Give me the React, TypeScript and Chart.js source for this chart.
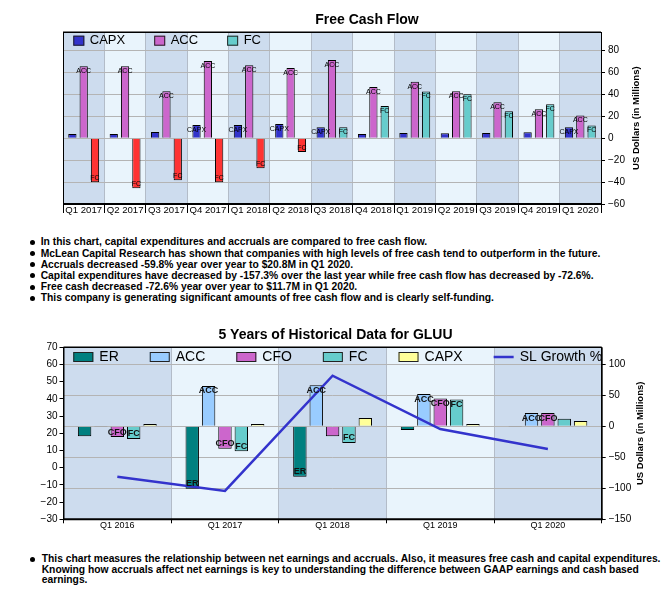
import React, { useEffect, useRef } from "react";
import { Chart, registerables } from "chart.js";

Chart.register(...registerables);

// ---------- Data: Free Cash Flow (quarterly) ----------
const quarters = ["Q1 2017", "Q2 2017", "Q3 2017", "Q4 2017", "Q1 2018", "Q2 2018", "Q3 2018", "Q4 2018", "Q1 2019", "Q2 2019", "Q3 2019", "Q4 2019", "Q1 2020"];
const capxQ = [4.0, 4.0, 5.8, 12.2, 12.2, 13.1, 10.0, 4.0, 4.9, 4.6, 4.9, 5.5, 10.0];
const accQ = [65.8, 65.8, 42.9, 70.6, 66.7, 64.2, 71.5, 46.9, 51.7, 42.9, 32.9, 26.5, 20.8];
const fcQ = [-40.2, -45.7, -38.4, -40.2, -27.4, -12.5, 10.0, 29.5, 42.7, 40.2, 24.7, 31.1, 11.7];
const fcTicks = [-60, -40, -20, 0, 20, 40, 60, 80];

// ---------- Data: 5 Years of Historical Data ----------
const years = ["Q1 2016", "Q1 2017", "Q1 2018", "Q1 2019", "Q1 2020"];
const erY = [-16.0, -100.6, -81.3, -5.9, -0.4];
const accY = [-1.0, 65.0, 66.0, 51.9, 21.4];
const cfoY = [-17.3, -36.4, -16.0, 44.9, 21.4];
const fcY = [-20.3, -40.1, -26.8, 43.3, 12.3];
const capxY = [3.7, 3.7, 13.4, 3.7, 8.6];
const slGrowth = [-5.2, -13.5, 53.5, 22.5, 10.9];
const leftTicks = [-30, -20, -10, 0, 10, 20, 30, 40, 50, 60, 70];
const rightTicks = [-150, -100, -50, 0, 50, 100];

const bulletsTop = [
  "In this chart, capital expenditures and accruals are compared to free cash flow.",
  "McLean Capital Research has shown that companies with high levels of free cash tend to outperform in the future.",
  "Accruals decreased -59.8% year over year to $20.8M in Q1 2020.",
  "Capital expenditures have decreased by -157.3% over the last year while free cash flow has decreased by -72.6%.",
  "Free cash decreased -72.6% year over year to $11.7M in Q1 2020.",
  "This company is generating significant amounts of free cash flow and is clearly self-funding.",
];
const bulletBottom = [
  "This chart measures the relationship between net earnings and accruals. Also, it measures free cash and capital expenditures.",
  "Knowing how accruals affect net earnings is key to understanding the difference between GAAP earnings and cash based",
  "earnings.",
];

const FONT = '"Liberation Sans", Arial, Helvetica, sans-serif';
const minusFmt = (v: any) => (Number(v) < 0 ? "\u2212" + Math.abs(Number(v)) : String(v));

// ---------- Plugins ----------
const bandsPlugin = {
  id: "bands",
  beforeDraw(chart: any, _a: any, o: any) {
    const { ctx, chartArea: a, scales } = chart;
    const x = scales.x;
    const n = chart.data.labels.length;
    const w = (a.right - a.left) / n;
    ctx.save();
    for (let i = 0; i < n; i++) {
      const cx = x.getPixelForValue(i);
      ctx.fillStyle = i % 2 === 0 ? o.dark : o.light;
      ctx.fillRect(cx - w / 2, a.top, w, a.bottom - a.top);
    }
    ctx.restore();
  },
};

const framePlugin = {
  id: "frame",
  afterDraw(chart: any) {
    const { ctx, chartArea: a } = chart;
    ctx.save();
    ctx.strokeStyle = "#000";
    ctx.lineWidth = 1.5;
    ctx.beginPath();
    ctx.moveTo(a.left, a.top);
    ctx.lineTo(a.right, a.top);
    ctx.stroke();
    ctx.lineWidth = 2;
    ctx.beginPath();
    ctx.moveTo(a.left, a.bottom);
    ctx.lineTo(a.right + 1, a.bottom);
    ctx.stroke();
    ctx.lineWidth = 1;
    ctx.beginPath();
    ctx.moveTo(a.left + 0.5, a.top);
    ctx.lineTo(a.left + 0.5, a.bottom);
    ctx.moveTo(a.right + 0.5, a.top);
    ctx.lineTo(a.right + 0.5, a.bottom);
    ctx.stroke();
    ctx.restore();
  },
};

const insideLegendPlugin = {
  id: "insideLegend",
  afterDraw(chart: any, _a: any, o: any) {
    const { ctx } = chart;
    ctx.save();
    ctx.font = o.font;
    ctx.textBaseline = "middle";
    ctx.textAlign = "left";
    let x = o.x;
    const y = o.y;
    chart.data.datasets.forEach((ds: any) => {
      if (ds.type === "line") {
        ctx.strokeStyle = ds.borderColor;
        ctx.lineWidth = ds.borderWidth;
        ctx.beginPath();
        ctx.moveTo(x, y);
        ctx.lineTo(x + o.boxW, y);
        ctx.stroke();
      } else {
        ctx.fillStyle = ds.legendColor || ds.backgroundColor;
        ctx.fillRect(x, y - o.boxH / 2, o.boxW, o.boxH);
        ctx.strokeStyle = "#222";
        ctx.lineWidth = 1;
        ctx.strokeRect(x + 0.5, y - o.boxH / 2 + 0.5, o.boxW - 1, o.boxH - 1);
      }
      x += o.boxW + o.textGap;
      ctx.fillStyle = "#000";
      ctx.fillText(ds.label, x, y);
      x += ctx.measureText(ds.label).width + o.itemGap;
    });
    ctx.restore();
  },
};

const barLabelsPlugin = {
  id: "barLabels",
  afterDatasetsDraw(chart: any, _a: any, o: any) {
    const { ctx } = chart;
    ctx.save();
    ctx.font = o.font;
    ctx.fillStyle = o.color;
    ctx.textAlign = "center";
    ctx.textBaseline = "middle";
    chart.data.datasets.forEach((ds: any, di: number) => {
      const meta = chart.getDatasetMeta(di);
      if (meta.type !== "bar") return;
      const min = o.minAbs[ds.label];
      if (min === undefined) return;
      meta.data.forEach((el: any, i: number) => {
        const v = ds.data[i];
        if (Math.abs(v) < min) return;
        const y = v >= 0 ? el.y + o.inPos : el.y - o.inNeg;
        ctx.fillText(ds.label, el.x, y);
      });
    });
    ctx.restore();
  },
};

const sideTitlePlugin = {
  id: "sideTitle",
  afterDraw(chart: any, _a: any, o: any) {
    const { ctx, chartArea: a } = chart;
    ctx.save();
    ctx.translate(o.x, (a.top + a.bottom) / 2);
    ctx.rotate(-Math.PI / 2);
    ctx.font = o.font;
    ctx.fillStyle = "#000";
    ctx.textAlign = "center";
    ctx.textBaseline = "middle";
    ctx.fillText(o.text, 0, 0);
    ctx.restore();
  },
};

const fixedTicks = (vals: number[]) => (scale: any) => {
  scale.ticks = vals.map((v) => ({ value: v }));
};

export default function App() {
  const c1 = useRef<HTMLCanvasElement>(null);
  const c2 = useRef<HTMLCanvasElement>(null);

  useEffect(() => {
    const barCommon = { borderColor: "#000", borderWidth: 1, categoryPercentage: 0.82, barPercentage: 0.73 };
    const chart1 = new Chart(c1.current as HTMLCanvasElement, {
      type: "bar",
      data: {
        labels: quarters,
        datasets: [
          { label: "CAPX", data: capxQ, backgroundColor: "#3333cc", ...barCommon } as any,
          { label: "ACC", data: accQ, backgroundColor: "#cc66cc", ...barCommon } as any,
          {
            label: "FC",
            data: fcQ,
            legendColor: "#66cccc",
            backgroundColor: (c: any) => (c.raw < 0 ? "#ff3333" : "#66cccc"),
            ...barCommon,
          } as any,
        ],
      },
      options: {
        animation: false,
        responsive: false,
        layout: { padding: { left: 63, right: 0, top: 0, bottom: 0 } },
        plugins: {
          legend: { display: false },
          tooltip: { enabled: false },
          title: {
            display: true,
            text: "Free Cash Flow",
            color: "#000",
            font: { size: 14, weight: "bold", family: FONT },
            padding: { top: 12, bottom: 3.5 },
          },
          bands: { dark: "#cddcee", light: "#e9f4fc" },
          insideLegend: { x: 73.3, y: 40.7, boxW: 11, boxH: 10, textGap: 5.5, itemGap: 29, font: `13px ${FONT}` },
          barLabels: { font: `7px ${FONT}`, color: "#000", inPos: 5, inNeg: 4, minAbs: { CAPX: 8, ACC: 0, FC: 0 } },
          sideTitle: { x: 636, text: "US Dollars (in Millions)", font: `bold 9.5px ${FONT}` },
        } as any,
        scales: {
          x: {
            grid: { offset: true, color: "#b3bcc8", tickColor: "#000", tickLength: 9, lineWidth: 1 },
            border: { display: false },
            ticks: { color: "#000", font: { size: 9.6, family: FONT }, padding: -8, maxRotation: 0, autoSkip: false },
            afterFit: (s: any) => {
              s.height = 21;
            },
          },
          y: {
            position: "right",
            min: -60,
            max: 96.8,
            afterBuildTicks: fixedTicks(fcTicks),
            ticks: { color: "#000", font: { size: 10, family: FONT }, padding: 3, callback: minusFmt },
            grid: { color: "#b4b4b4", tickColor: "#000", tickLength: 4 },
            border: { display: true, color: "#000", width: 1 },
            afterFit: (s: any) => {
              s.width = 70;
            },
          },
        } as any,
      },
      plugins: [bandsPlugin, framePlugin, insideLegendPlugin, barLabelsPlugin, sideTitlePlugin] as any,
    });

    const barCommon2 = { borderColor: "#000", borderWidth: 1, categoryPercentage: 0.76, barPercentage: 0.82, yAxisID: "y1", order: 1 };
    const chart2 = new Chart(c2.current as HTMLCanvasElement, {
      type: "bar",
      data: {
        labels: years,
        datasets: [
          { label: "ER", data: erY, backgroundColor: "#008080", ...barCommon2 } as any,
          { label: "ACC", data: accY, backgroundColor: "#99ccff", ...barCommon2 } as any,
          { label: "CFO", data: cfoY, backgroundColor: "#cc66cc", ...barCommon2 } as any,
          { label: "FC", data: fcY, backgroundColor: "#66cccc", ...barCommon2 } as any,
          { label: "CAPX", data: capxY, backgroundColor: "#ffff99", ...barCommon2 } as any,
          {
            type: "line",
            label: "SL Growth %",
            data: slGrowth,
            borderColor: "#3333cc",
            backgroundColor: "#3333cc",
            borderWidth: 2.5,
            pointRadius: 0,
            tension: 0,
            yAxisID: "y",
            order: 0,
          } as any,
        ],
      },
      options: {
        animation: false,
        responsive: false,
        layout: { padding: { left: 0, right: 0, top: 0, bottom: 0 } },
        plugins: {
          legend: { display: false },
          tooltip: { enabled: false },
          title: {
            display: true,
            text: "5 Years of Historical Data for GLUU",
            color: "#000",
            font: { size: 14, weight: "bold", family: FONT },
            padding: { top: 6.6, bottom: 3.9 },
          },
          bands: { dark: "#cddcee", light: "#e9f4fc" },
          insideLegend: { x: 73.3, y: 37, boxW: 20, boxH: 10, textGap: 6, itemGap: 31, font: `14px ${FONT}` },
          barLabels: {
            font: `bold 9px ${FONT}`,
            color: "#111",
            inPos: 5,
            inNeg: 5,
            minAbs: { ER: 16.5, ACC: 16.5, CFO: 16.5, FC: 16.5 },
          },
          sideTitle: { x: 640, text: "US Dollars (in Millions)", font: `bold 9.5px ${FONT}` },
        } as any,
        scales: {
          x: {
            grid: { offset: true, color: "#b3bcc8", tickColor: "#000", tickLength: 4, lineWidth: 1 },
            border: { display: false },
            ticks: { color: "#000", font: { size: 9, family: FONT }, padding: -3, maxRotation: 0, autoSkip: false },
            afterFit: (s: any) => {
              s.height = 15.7;
            },
          },
          y: {
            position: "left",
            min: -30,
            max: 70,
            afterBuildTicks: fixedTicks(leftTicks),
            ticks: { color: "#000", font: { size: 10, family: FONT }, padding: 2, callback: minusFmt },
            grid: { drawOnChartArea: false, tickColor: "#000", tickLength: 4 },
            border: { display: true, color: "#000", width: 1 },
            afterFit: (s: any) => {
              s.width = 63.5;
            },
          },
          y1: {
            position: "right",
            min: -150,
            max: 127.4,
            afterBuildTicks: fixedTicks(rightTicks),
            ticks: { color: "#000", font: { size: 10, family: FONT }, padding: 3, callback: minusFmt },
            grid: { color: "#b4b4b4", tickColor: "#000", tickLength: 4 },
            border: { display: true, color: "#000", width: 1 },
            afterFit: (s: any) => {
              s.width = 69.3;
            },
          },
        } as any,
      },
      plugins: [bandsPlugin, framePlugin, insideLegendPlugin, barLabelsPlugin, sideTitlePlugin] as any,
    });

    return () => {
      chart1.destroy();
      chart2.destroy();
    };
  }, []);

  const textStyle: React.CSSProperties = {
    position: "absolute",
    whiteSpace: "nowrap",
    fontFamily: FONT,
    fontWeight: "bold",
    fontSize: "10.3px",
    color: "#000",
  };
  const dot = (top: number): React.CSSProperties => ({
    position: "absolute",
    left: 30,
    top,
    width: 5,
    height: 5,
    borderRadius: "50%",
    background: "#000",
  });

  return (
    <div style={{ position: "absolute", left: 0, top: 0, width: 671, height: 601, background: "#fff", overflow: "hidden" }}>
      <canvas ref={c1} width={671} height={225} style={{ position: "absolute", left: 0, top: 0, width: 671, height: 225 }} />
      {bulletsTop.map((t, i) => {
        const cy = 242.3 + i * 11.2;
        return (
          <React.Fragment key={i}>
            <div style={dot(cy - 2.5)} />
            <div style={{ ...textStyle, left: 40.7, top: cy - 6, height: 12, lineHeight: "12px" }}>{t}</div>
          </React.Fragment>
        );
      })}
      <canvas ref={c2} width={671} height={215} style={{ position: "absolute", left: 0, top: 320, width: 671, height: 215 }} />
      <div style={dot(559 - 2.5)} />
      {bulletBottom.map((t, i) => {
        const cy = 559 + i * 10.5;
        return (
          <div key={i} style={{ ...textStyle, left: 41.7, top: cy - 6, height: 12, lineHeight: "12px" }}>
            {t}
          </div>
        );
      })}
    </div>
  );
}
